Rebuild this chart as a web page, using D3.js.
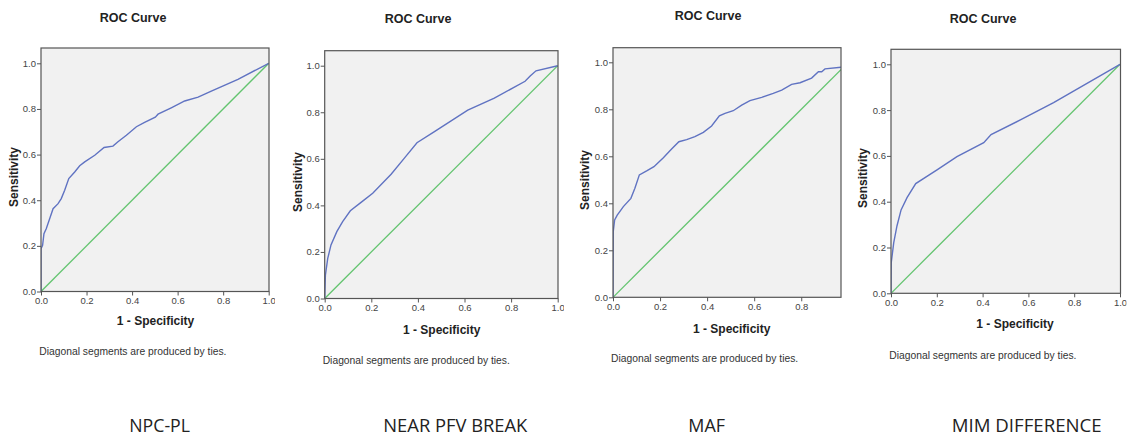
<!DOCTYPE html>
<html>
<head>
<meta charset="utf-8">
<script src="https://cdn.jsdelivr.net/npm/d3@7"></script>
<style>
  body { margin: 0; background: #fff; }
  svg { display: block; }
  .tick text { font-family: "Liberation Sans", Arial, sans-serif; font-size: 9.5px; fill: #444; }
  .tick line { stroke: #555; }
</style>
</head>
<body>
<svg id="chart" width="1127" height="438"></svg>
<script>
// panel captions under each chart
var panelNames = ["NPC-PL", "NEAR PFV BREAK", "MAF", "MIM DIFFERENCE"];
var tickValues = [0, 0.2, 0.4, 0.6, 0.8, 1.0];

// ROC points: 1 - specificity / sensitivity
var npcFpr = [0, 0, 0.007, 0.013, 0.023, 0.038, 0.053, 0.075, 0.089, 0.104, 0.122, 0.148, 0.170, 0.192, 0.236, 0.277, 0.316, 0.338, 0.375, 0.419, 0.455, 0.502, 0.514, 0.572, 0.631, 0.690, 0.748, 0.865, 1];
var npcTpr = [0, 0.187, 0.202, 0.253, 0.275, 0.319, 0.363, 0.385, 0.407, 0.444, 0.495, 0.524, 0.551, 0.568, 0.597, 0.631, 0.637, 0.656, 0.685, 0.722, 0.741, 0.764, 0.777, 0.805, 0.835, 0.852, 0.878, 0.930, 1];

var pfvFpr = [0, 0.003, 0.013, 0.027, 0.052, 0.077, 0.110, 0.156, 0.206, 0.285, 0.342, 0.396, 0.471, 0.614, 0.728, 0.860, 0.883, 0.907, 1];
var pfvTpr = [0, 0.100, 0.172, 0.230, 0.287, 0.330, 0.377, 0.413, 0.452, 0.534, 0.603, 0.669, 0.717, 0.809, 0.861, 0.933, 0.957, 0.978, 1];

var mafFpr = [0, 0.001, 0.007, 0.018, 0.044, 0.076, 0.093, 0.112, 0.143, 0.174, 0.214, 0.249, 0.280, 0.313, 0.348, 0.384, 0.419, 0.452, 0.476, 0.511, 0.547, 0.582, 0.632, 0.681, 0.717, 0.759, 0.795, 0.844, 0.873, 0.887, 0.901, 0.969, 1];
var mafTpr = [0, 0.279, 0.329, 0.350, 0.386, 0.421, 0.464, 0.521, 0.538, 0.556, 0.594, 0.631, 0.662, 0.671, 0.684, 0.702, 0.729, 0.772, 0.783, 0.794, 0.818, 0.837, 0.851, 0.868, 0.882, 0.906, 0.913, 0.933, 0.960, 0.960, 0.972, 0.979, 0.982];

var mimFpr = [0, 0.001, 0.012, 0.026, 0.044, 0.070, 0.108, 0.201, 0.288, 0.405, 0.437, 0.565, 0.710, 1];
var mimTpr = [0, 0.134, 0.221, 0.294, 0.364, 0.418, 0.479, 0.539, 0.597, 0.658, 0.693, 0.757, 0.833, 1];

var seriesFpr = [npcFpr, pfvFpr, mafFpr, mimFpr];
var seriesTpr = [npcTpr, pfvTpr, mafTpr, mimTpr];

// layout of each small chart (pixels)
var layout = [
  {x0: 41, x1: 268.7, y0: 291.5, y1: 63.3, top: 48, right: 269, xMax: 1,
   titleX: 133, titleY: 21.5, xlabX: 155.5, xlabY: 325, ylabX: 14, ylabY: 177, noteX: 39.3, noteY: 354.5, capX: 129.3, capW: 60.7},
  {x0: 324.7, x1: 557.7, y0: 298.5, y1: 65.7, top: 50.7, right: 558, xMax: 1,
   titleX: 418, titleY: 22.8, xlabX: 441.7, xlabY: 334.3, ylabX: 297.7, ylabY: 182, noteX: 322.7, noteY: 364, capX: 383.3, capW: 144},
  {x0: 613, x1: 848.3, y0: 297.3, y1: 62.3, top: 47.7, right: 841, xMax: 0.97,
   titleX: 708, titleY: 19.5, xlabX: 731.7, xlabY: 333.3, ylabX: 585, ylabY: 180, noteX: 611, noteY: 362, capX: 688.3, capW: 36.7},
  {x0: 891, x1: 1120, y0: 293.3, y1: 64.3, top: 49.3, right: 1120.5, xMax: 1,
   titleX: 983, titleY: 22.8, xlabX: 1015, xlabY: 327.5, ylabX: 863.3, ylabY: 178, noteX: 889.3, noteY: 358.5, capX: 951.7, capW: 150}
];

var svg = d3.select("#chart");
var font = "'Liberation Sans', Arial, sans-serif";

layout.forEach(function (L, i) {
  var g = svg.append("g");
  var x = d3.scaleLinear().domain([0, 1]).range([L.x0, L.x1]);
  var y = d3.scaleLinear().domain([0, 1]).range([L.y0, L.y1]);

  g.append("rect")
    .attr("x", L.x0).attr("y", L.top)
    .attr("width", L.right - L.x0).attr("height", L.y0 - L.top)
    .attr("fill", "#f1f1f1");

  var clipId = "clip" + i;
  svg.append("clipPath").attr("id", clipId)
    .append("rect")
      .attr("x", L.x0).attr("y", L.top)
      .attr("width", L.right - L.x0).attr("height", L.y0 - L.top);
  // the x tick labels are cut off just past the box, as in the original export
  var tickClip = "tclip" + i;
  svg.append("clipPath").attr("id", tickClip)
    .append("rect")
      .attr("x", L.x0 - 30).attr("y", -5)
      .attr("width", L.right - L.x0 + 36).attr("height", 30);

  var line = d3.line()
    .x(function (d) { return x(d[0]); })
    .y(function (d) { return y(d[1]); });

  // reference diagonal
  g.append("path")
    .datum([[0, 0], [1, 1]])
    .attr("clip-path", "url(#" + clipId + ")")
    .attr("d", line)
    .attr("fill", "none")
    .attr("stroke", "#63c46f")
    .attr("stroke-width", 1.3);

  var pts = seriesFpr[i].map(function (f, j) { return [f, seriesTpr[i][j]]; });
  g.append("path")
    .datum(pts)
    .attr("clip-path", "url(#" + clipId + ")")
    .attr("d", line)
    .attr("fill", "none")
    .attr("stroke", "#6073c2")
    .attr("stroke-width", 1.4);

  // axes
  var xTicks = tickValues.filter(function (t) { return t <= L.xMax; });
  var xa = g.append("g")
    .attr("transform", "translate(0," + L.y0 + ")")
    .attr("clip-path", "url(#" + tickClip + ")")
    .call(d3.axisBottom(x).tickValues(xTicks).tickSize(4).tickPadding(2).tickFormat(d3.format(".1f")));
  xa.select(".domain").remove();

  var ya = g.append("g")
    .attr("transform", "translate(" + L.x0 + ",0)")
    .call(d3.axisLeft(y).tickValues(tickValues).tickSize(4).tickPadding(1).tickFormat(d3.format(".1f")));
  ya.select(".domain").remove();

  g.append("rect")
    .attr("x", L.x0).attr("y", L.top)
    .attr("width", L.right - L.x0).attr("height", L.y0 - L.top)
    .attr("fill", "none")
    .attr("stroke", "#555")
    .attr("stroke-width", 1.2);

  // texts
  g.append("text")
    .attr("x", L.titleX).attr("y", L.titleY)
    .attr("text-anchor", "middle")
    .style("font", "bold 12.5px " + font)
    .attr("fill", "#222")
    .text("ROC Curve");

  g.append("text")
    .attr("x", L.xlabX).attr("y", L.xlabY)
    .attr("text-anchor", "middle")
    .style("font", "bold 12px " + font)
    .attr("fill", "#222")
    .text("1 - Specificity");

  g.append("text")
    .attr("transform", "translate(" + (L.ylabX + 4) + "," + L.ylabY + ") rotate(-90)")
    .attr("text-anchor", "middle")
    .style("font", "bold 12px " + font)
    .attr("fill", "#222")
    .text("Sensitivity");

  g.append("text")
    .attr("x", L.noteX).attr("y", L.noteY)
    .style("font", "10.3px " + font)
    .attr("fill", "#333")
    .text("Diagonal segments are produced by ties.");

  g.append("text")
    .attr("x", L.capX).attr("y", 432.3)
    .attr("textLength", L.capW)
    .attr("lengthAdjust", "spacingAndGlyphs")
    .style("font", "18.5px 'Open Sans', 'Noto Sans', sans-serif")
    .attr("fill", "#222")
    .text(panelNames[i]);
});
</script>
</body>
</html>
